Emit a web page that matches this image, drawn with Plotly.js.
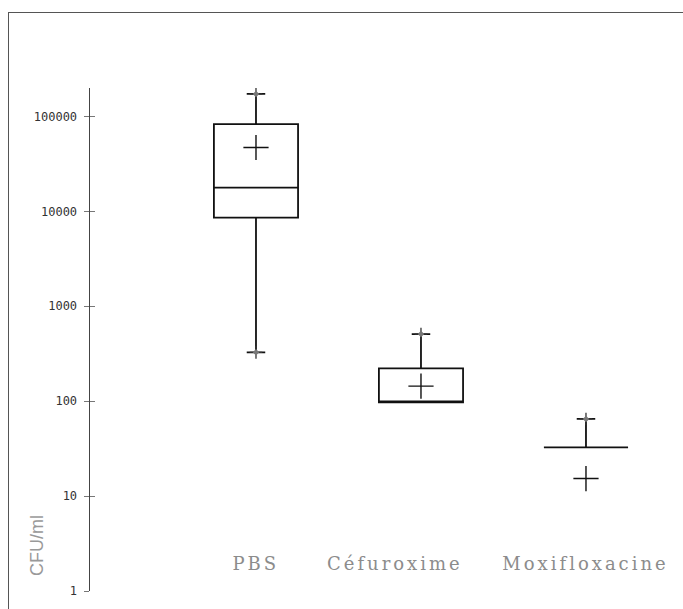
<!DOCTYPE html>
<html>
<head>
<meta charset="utf-8">
<script src="https://cdn.plot.ly/plotly-3.0.1.min.js"></script>
<style>
  html, body { margin: 0; padding: 0; background: #fff; overflow: hidden; }
  #wrap { position: relative; width: 683px; height: 609px; }
  #chart { width: 683px; height: 609px; }
  #frame { position: absolute; left: 8px; top: 12px; width: 680px; height: 600px;
           border-left: 1.5px solid #555; border-top: 1.5px solid #555; pointer-events: none; }
  .xlab .annotation-text { letter-spacing: 3px; }
</style>
</head>
<body>
<div id="wrap">
  <div id="chart"></div>
  <div id="frame"></div>
</div>
<script>
// ---- data (CFU/ml) ----
const categories = ["PBS", "Céfuroxime", "Moxifloxacine"];
const minVals    = [327, 97, 32.6];
const q1Vals     = [8600, 97, 32.6];
const medianVals = [17800, 97, 32.6];
const q3Vals     = [83000, 222, 32.6];
const maxVals    = [173000, 510, 65];
const meanVals   = [47100, 144, 15.3];
const yTickVals  = [1, 10, 100, 1000, 10000, 100000];
const yTickText  = ["1", "10", "100", "1000", "10000", "100000"];
const yTitle = "CFU/ml";

const pos = categories.map((c, i) => i);

const boxTrace = {
  type: "box",
  x: pos,
  q1: q1Vals, median: medianVals, q3: q3Vals,
  lowerfence: minVals, upperfence: maxVals,
  width: 0.51,
  whiskerwidth: 0.22,
  fillcolor: "rgba(255,255,255,0)",
  line: { color: "#111", width: 1.8 },
  boxpoints: false,
  hoverinfo: "skip",
  showlegend: false
};

const meanTrace = {
  type: "scatter", mode: "markers",
  x: pos, y: meanVals,
  marker: { symbol: "cross-thin-open", size: 18, color: "#111", line: { color: "#111", width: 1.4 } },
  showlegend: false, hoverinfo: "skip"
};

const endX = [], endY = [];
pos.forEach((p, i) => {
  endX.push(p); endY.push(maxVals[i]);
  if (minVals[i] < q1Vals[i]) { endX.push(p); endY.push(minVals[i]); }
});
const endTrace = {
  type: "scatter", mode: "markers",
  x: endX, y: endY,
  marker: { symbol: "cross-thin-open", size: 9, color: "#333", line: { color: "#333", width: 1.3 } },
  showlegend: false, hoverinfo: "skip"
};
const endDot = {
  type: "scatter", mode: "markers",
  x: endX, y: endY,
  marker: { symbol: "diamond", size: 5, color: "#777", line: { width: 0 } },
  showlegend: false, hoverinfo: "skip"
};

const yRange = [0, 5.30];
const labelShift = [0, -26, 0];

const annotations = categories.map((c, i) => ({
  text: c, x: i, xref: "x", y: 0.055, yref: "paper",
  xanchor: "center", yanchor: "middle", showarrow: false, xshift: labelShift[i],
  font: { family: "DejaVu Serif", size: 18, color: "#8c8c8c" },
  captureevents: false
}));
annotations.push({
  text: yTitle, x: -0.089, xref: "paper", y: 0.09, yref: "paper",
  textangle: -90, xanchor: "center", yanchor: "middle", showarrow: false,
  font: { family: "Liberation Sans", size: 18, color: "#999" }
});

const layout = {
  width: 683, height: 609,
  margin: { l: 90, r: 0, t: 88, b: 18 },
  paper_bgcolor: "#fff", plot_bgcolor: "#fff",
  showlegend: false,
  xaxis: {
    range: [-1.006, 2.588], showgrid: false, zeroline: false,
    showline: false, showticklabels: false, ticks: "", fixedrange: true
  },
  yaxis: {
    type: "log", range: yRange, showgrid: false, zeroline: false,
    showline: true, linecolor: "#444", linewidth: 1.5,
    tickmode: "array", tickvals: yTickVals, ticktext: yTickText,
    ticks: "outside", ticklen: 5, tickwidth: 1, tickcolor: "#777",
    ticklabelstandoff: 4,
    tickfont: { family: "DejaVu Sans Mono", size: 12, color: "#333" }
  },
  yaxis2: {
    type: "log", range: yRange, overlaying: "y", side: "left", anchor: "x",
    showgrid: false, zeroline: false, showline: false,
    tickmode: "array", tickvals: yTickVals, showticklabels: false,
    ticks: "inside", ticklen: 5, tickwidth: 1, tickcolor: "#777"
  },
  annotations: annotations
};

const dummy = { type: "scatter", x: [0], y: [1], yaxis: "y2", mode: "markers",
  marker: { opacity: 0 }, showlegend: false, hoverinfo: "skip" };

Plotly.newPlot("chart", [boxTrace, endTrace, endDot, meanTrace, dummy], layout,
  { staticPlot: true, displayModeBar: false }).then(() => {
  document.querySelectorAll("#chart .annotation").forEach((g, i) => {
    if (i < categories.length) g.classList.add("xlab");
  });
});
</script>
</body>
</html>
